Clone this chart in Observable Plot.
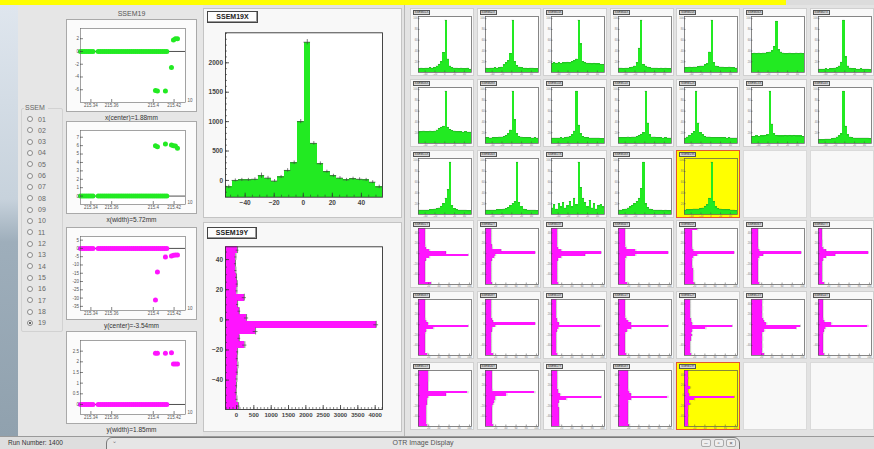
<!DOCTYPE html>
<html><head><meta charset="utf-8">
<script src="https://cdn.jsdelivr.net/npm/d3@7"></script>
<script src="https://cdn.jsdelivr.net/npm/@observablehq/plot@0.6"></script>
<style>
html,body{margin:0;padding:0}
body{width:874px;height:449px;overflow:hidden;position:relative;background:#e3e3e3;font-family:"Liberation Sans",Arial,sans-serif;color:#333}
.a{position:absolute;box-sizing:border-box}
svg{display:block}
</style></head><body>
<script>
// ---------------- DATA ----------------
const ssemIds = ["01","02","03","04","05","06","07","08","09","10","11","12","13","14","15","16","17","18","19"];
const selectedId = "19";
const runNumber = "1400";
const windowTitle = "OTR Image Display";
const scatterLabels = ["x(center)=1.88mm","x(width)=5.72mm","y(center)=-3.54mm","y(width)=1.85mm"];

// time axis of the four trend graphs
const timeDomain = [215.330, 215.431];
const timeTicks = [215.34, 215.36, 215.40, 215.42];
const timeTickLabels = ["215.34","215.36","215.4","215.42"];
const runTimes = [215.330,215.332,215.334,215.336,215.338,215.340,215.342,
  215.347,215.349,215.351,215.353,215.355,215.357,215.359,215.361,215.363,215.365,215.367,215.369,
  215.371,215.373,215.375,215.377,215.379,215.381,215.383,215.385,215.387,215.389,215.391,215.393,215.395,215.397,
  215.399,215.401,215.403,215.405,215.407,215.409,215.411,215.413];
const outTimes = [215.4021,215.4040,215.4117,215.4175,215.4194,215.4213,215.4233];
const xCenterOut = [-6.1,-6.2,-6.2,-2.5,1.8,2.0,2.0];
const xWidthOut  = [5.98,5.86,6.19,6.07,6.0,5.95,5.7];
const yCenterOut = [-31.2,-14.3,-5.2,-4.6,-4.2,-4.0,-3.9];
const yWidthOut  = [2.4,2.4,2.4,2.42,1.9,1.9,1.9];
const xCenterRange = [-8,3.6],  xCenterTicks = [-6,-4,-2,0,2];
const xWidthRange  = [-1,7.8],  xWidthTicks  = [0,1,2,3,4,5,6,7];
const yCenterRange = [-37.5,7.2], yCenterTicks = [-35,-30,-25,-20,-15,-10,-5,0,5];
const yWidthRange  = [-0.47,3.0], yWidthTicks  = [0,0.5,1,1.5,2,2.5];

// SSEM19 X projection (24 bins)
const xRangeMM = [-53.5, 54.5];
const ssem19X    = [-110,0,10,10,20,80,40,-10,60,170,300,1000,2350,630,285,150,80,40,10,30,20,10,-30,-110];
const ssem19XErr = [30,25,25,25,25,45,30,25,25,30,30,35,45,30,30,25,25,25,25,25,25,25,25,30];
const countRangeX = [-285, 2510];
const countTicksX = [0,500,1000,1500,2000];
const mmTicksX = [-40,-20,0,20,40];

// SSEM19 Y projection (24 bins, listed top to bottom)
const yRangeMM = [-59.5, 48.5];
const ssem19Y    = [30,-20,-30,-20,0,20,10,225,30,80,290,4030,550,80,240,30,20,40,20,10,0,-10,10,60];
const ssem19YErr = [40,30,30,30,30,30,30,60,30,40,60,70,70,40,60,30,30,30,30,30,30,30,30,40];
const countRangeY = [-318, 4211];
const countTicksY = [0,500,1000,1500,2000,2500,3000,3500,4000];
const mmTicksY = [-40,-20,0,20,40];

// small X profiles (% of pad height), SSEM01..19
const px01=[7,8,7,8,8,9,8,9,12,15,20,37,97,25,12,9,8,8,7,8,7,7,8,6];
const px02=[8,7,8,8,9,8,9,10,14,18,22,35,97,20,13,10,9,8,8,7,8,8,7,7];
const px03=[17,18,17,18,17,18,18,19,18,20,22,25,97,53,20,18,17,17,16,17,16,16,15,15];
const px04=[8,8,7,8,8,9,10,12,18,45,97,15,12,10,9,8,8,8,7,8,7,8,7,7];
const px05=[9,9,10,9,10,10,11,12,12,14,16,38,97,18,12,11,10,10,9,9,10,9,9,8];
const px06=[35,36,35,36,35,36,36,37,38,40,48,95,42,38,36,35,35,36,35,35,36,35,36,35];
const px07=[6,6,6,7,6,7,7,8,9,12,19,97,29,12,8,7,7,6,6,7,6,6,6,5];
const px08=[22,22,23,22,22,23,22,23,25,28,30,32,97,30,26,24,23,22,22,22,21,22,21,21];
const px09=[11,11,10,11,11,11,12,12,13,15,18,25,97,44,18,13,12,11,11,11,11,10,11,10];
const px10=[10,10,10,10,11,10,11,12,13,16,23,97,34,18,13,11,11,10,10,10,10,10,9,9];
const px11=[11,11,11,11,12,11,12,12,13,15,17,20,97,38,16,12,12,11,11,11,10,11,10,10];
const px12=[10,12,15,18,22,97,38,20,16,13,12,12,11,11,11,11,11,11,11,10,11,10,10,10];
const px13=[13,13,14,13,14,14,15,16,97,36,18,15,14,14,14,15,14,15,14,15,14,14,14,13];
const px14=[7,7,7,8,8,8,9,10,12,14,18,97,32,16,12,11,10,10,10,10,10,10,10,9];
const px15=[8,8,8,8,8,9,9,10,11,12,15,20,30,46,97,16,11,9,8,8,8,8,7,7];
const px16=[8,8,8,8,8,9,9,9,10,11,13,16,20,24,97,22,14,10,9,8,8,8,8,7];
const px17=[12,18,10,20,14,22,12,16,24,14,30,18,97,50,30,22,14,26,12,20,10,16,18,14];
const px18=[8,8,9,10,12,14,17,20,24,30,48,97,20,13,10,9,8,8,8,8,7,8,7,7];
const px19=[8,9,9,9,10,10,10,11,12,15,18,30,97,24,14,11,10,9,9,9,9,8,8,7];
// small Y profiles (% of pad width, top bin first), SSEM01..19
const py01=[13,13,13,13,13,13,13,14,15,22,54,98,22,15,13,13,13,13,13,13,13,13,13,25];
const py02=[12,12,12,12,12,12,12,13,14,31,98,20,18,13,12,12,12,12,12,12,12,12,12,13];
const py03=[12,12,12,12,12,12,12,12,13,20,98,66,20,13,12,12,12,12,12,12,12,12,12,14];
const py04=[13,13,13,13,13,13,13,14,16,34,98,34,16,14,13,13,13,13,13,13,13,13,13,18];
const py05=[26,15,15,15,15,15,15,15,16,18,98,26,18,16,15,15,16,17,18,18,18,18,18,20];
const py06=[13,13,13,13,13,13,13,13,14,16,98,23,16,14,13,13,13,13,13,13,13,13,13,16];
const py07=[7,7,7,7,7,8,8,8,10,15,98,33,15,10,8,8,8,8,8,8,8,8,8,12];
const py08=[13,13,13,13,13,13,13,13,14,16,20,98,30,16,14,13,13,13,13,13,13,13,13,18];
const py09=[12,12,12,12,12,12,12,12,13,15,98,20,14,13,12,12,12,12,12,12,12,12,12,16];
const py10=[10,10,10,10,10,10,10,10,11,12,15,97,14,11,10,10,10,10,10,10,10,10,10,12];
const py11=[13,13,13,13,13,13,13,14,16,20,25,98,25,18,14,13,13,13,13,13,13,13,13,16];
const py12=[12,12,12,12,12,12,12,12,13,14,16,94,42,16,14,15,13,13,12,12,12,12,12,14];
const py13=[22,22,21,22,22,21,22,22,23,25,30,96,88,26,22,21,22,22,21,22,22,21,22,25];
const py14=[9,9,9,9,9,9,9,9,10,12,26,97,14,11,10,9,9,9,9,9,9,9,9,12];
const py15=[20,20,20,20,20,19,19,19,19,97,54,20,18,17,17,16,16,16,16,16,16,16,16,18];
const py16=[13,13,13,13,13,13,13,13,14,97,42,20,20,18,16,14,13,13,13,13,13,13,13,16];
const py17=[12,12,12,12,12,12,12,12,13,14,18,98,30,15,14,14,15,15,15,15,15,15,15,16];
const py18=[19,19,19,19,19,19,19,19,20,22,25,97,25,20,19,19,19,19,19,19,19,19,19,22];
const py19=[7,7,7,8,7,7,7,12,8,8,10,98,20,9,12,8,8,7,7,8,7,7,7,8];
const xProfiles=[px01,px02,px03,px04,px05,px06,px07,px08,px09,px10,px11,px12,px13,px14,px15,px16,px17,px18,px19];
const yProfiles=[py01,py02,py03,py04,py05,py06,py07,py08,py09,py10,py11,py12,py13,py14,py15,py16,py17,py18,py19];
const pctTicks=[20,40,60,80,100];

// ---------------- DRAWING ----------------
const FONT='"Liberation Sans", Arial, sans-serif';
const GREEN="#22ea22", MAG="#ff14ff", YEL="#ffff00";
function div(x,y,w,h,css,html){const d=document.createElement("div");d.className="a";
  Object.assign(d.style,{left:x+"px",top:y+"px",width:w+"px",height:h+"px"},css||{});
  if(html!=null)d.innerHTML=html;document.body.appendChild(d);return d;}
function mount(svg,x,y){svg.style.position="absolute";svg.style.left=x+"px";svg.style.top=y+"px";document.body.appendChild(svg);}
const st={background:"transparent",overflow:"visible",fontFamily:FONT};
const crisp={shapeRendering:"crispEdges"};

// backgrounds
div(0,0,874,449,{background:"#dcdcdc"});
div(0,0,786,5,{background:YEL});
div(0,5,18,431,{background:"linear-gradient(#dfe6ee,#c7d2dc 45%,#9eaebb 55%,#90a1ae)"});
div(18,5,185,431,{background:"#e6e6e6"});
div(203,5,201,431,{background:"#e3e3e3"});
div(404,5,470,431,{background:"#e3e3e3",borderLeft:"1px solid #b8b8b8"});

// SSEM radio list
div(24,104,24,8,{fontSize:"7px",color:"#666",background:"#e6e6e6",zIndex:2,paddingLeft:"1px"},"SSEM");
div(21,108,42,224,{border:"1px solid #d2d2d2",borderRadius:"2px"});
ssemIds.forEach((id,i)=>{
  const cy=119+i*11.33, sel=id===selectedId;
  div(27,cy-3,6,6,{border:"1px solid #8a8a8a",borderRadius:"50%",background:"#f4f4f4"},
     sel?'<div style="position:absolute;left:1px;top:1px;width:2px;height:2px;border-radius:50%;background:#333"></div>':"");
  div(38,cy-4.5,20,9,{fontSize:"7px",color:"#666",lineHeight:"9px"},id);
});

// trend graphs
div(66,9,131,9,{fontSize:"7px",color:"#555",textAlign:"center",lineHeight:"9px"},"SSEM"+selectedId);
const trends=[
  {vals:xCenterOut,range:xCenterRange,ticks:xCenterTicks,color:GREEN,top:19},
  {vals:xWidthOut,range:xWidthRange,ticks:xWidthTicks,color:GREEN,top:121},
  {vals:yCenterOut,range:yCenterRange,ticks:yCenterTicks,color:MAG,top:227},
  {vals:yWidthOut,range:yWidthRange,ticks:yWidthTicks,color:MAG,top:331}];
trends.forEach((g,k)=>{
  div(66,g.top,131,93,{background:"#fbfbfb",border:"1px solid #a9a9a9"});
  const base=runTimes.map(t=>({t,v:0}));
  const out=outTimes.map((t,j)=>({t,v:g.vals[j]}));
  const svg=Plot.plot({width:131,height:93,marginLeft:14,marginRight:12,marginTop:9,marginBottom:10,
    x:{domain:timeDomain},y:{domain:g.range},style:st,
    marks:[
      Plot.frame({fill:"white"}),
      Plot.ruleY([0],{stroke:"#222",strokeWidth:0.8}),
      Plot.dot(base,{x:"t",y:"v",r:2.5,fill:g.color}),
      Plot.dot(out,{x:"t",y:"v",r:2.5,fill:g.color}),
      Plot.frame({stroke:"#666",strokeWidth:0.6}),
      Plot.axisY(g.ticks,{tickSize:3,dx:3,fill:"none",stroke:"#333",strokeWidth:0.6,label:null}),
      Plot.axisY(g.ticks,{tickSize:0,tickPadding:1.5,fontSize:4.5,fill:"#555",label:null,tickFormat:d=>String(d)}),
      Plot.axisX(timeTicks,{tickSize:3,dy:-3,fill:"none",stroke:"#333",strokeWidth:0.6,label:null}),
      Plot.axisX(timeTicks,{tickSize:0,tickPadding:1.5,fontSize:4.5,fill:"#555",label:null,tickFormat:(d,j)=>timeTickLabels[j]}),
      Plot.text(["10"],{frameAnchor:"bottom-right",dx:7,dy:-1,fontSize:4.5,fill:"#555"})
    ]});
  mount(svg,66,g.top);
  div(66,g.top+93,131,11,{fontSize:"6.5px",color:"#333",textAlign:"center",lineHeight:"11px"},scatterLabels[k]);
});

// main X histogram
const wX=(xRangeMM[1]-xRangeMM[0])/ssem19X.length;
const binsX=ssem19X.map((v,i)=>({x1:xRangeMM[0]+i*wX,x2:xRangeMM[0]+(i+1)*wX,v,e:ssem19XErr[i]}));
div(203,8,199,210,{background:"#f8f8f8",border:"1px solid #c4c4c4"});
const minorX=d3.range(-50,51,5), minorCX=d3.range(-200,2501,100);
mount(Plot.plot({width:199,height:210,marginLeft:22,marginRight:20,marginTop:24.3,marginBottom:21.3,
  x:{domain:xRangeMM},y:{domain:countRangeX},style:st,
  marks:[
    Plot.frame({fill:"white"}),
    Plot.rectY(binsX,{x1:"x1",x2:"x2",y1:countRangeX[0],y2:"v",fill:GREEN,...crisp}),
    Plot.ruleY(binsX,{x1:"x1",x2:"x2",y:"v",stroke:"#444",strokeWidth:0.7}),
    Plot.ruleX(binsX,{x:d=>(d.x1+d.x2)/2,y1:d=>d.v-d.e,y2:d=>d.v+d.e,stroke:"#444",strokeWidth:0.7}),
    Plot.frame({stroke:"#333",strokeWidth:0.9}),
    Plot.axisY(minorCX,{tickSize:2,dx:2,fill:"none",stroke:"#333",strokeWidth:0.6,label:null}),
    Plot.axisY(countTicksX,{tickSize:4,dx:4,fill:"none",stroke:"#333",strokeWidth:0.8,label:null}),
    Plot.axisY(countTicksX,{tickSize:0,tickPadding:2.5,fontSize:6.5,fontWeight:"bold",fill:"#444",label:null,tickFormat:"d"}),
    Plot.axisX(minorX,{tickSize:2,dy:-2,fill:"none",stroke:"#333",strokeWidth:0.6,label:null}),
    Plot.axisX(mmTicksX,{tickSize:4,dy:-4,fill:"none",stroke:"#333",strokeWidth:0.8,label:null}),
    Plot.axisX(mmTicksX,{tickSize:0,tickPadding:3,fontSize:6.5,fontWeight:"bold",fill:"#444",label:null,tickFormat:"d"})
  ]}),203,8);
div(207,11,51,12,{border:"1px solid #444",background:"#fdfdfd",boxShadow:"inset -1px -1px 0 #999",fontSize:"7px",fontWeight:"bold",textAlign:"center",lineHeight:"10px",color:"#222"},"SSEM"+selectedId+"X");

// main Y histogram
const wY=(yRangeMM[1]-yRangeMM[0])/ssem19Y.length;
const binsY=ssem19Y.map((v,i)=>({y2:yRangeMM[1]-i*wY,y1:yRangeMM[1]-(i+1)*wY,v,e:ssem19YErr[i]}));
div(203,222,199,210,{background:"#f8f8f8",border:"1px solid #c4c4c4"});
const minorY=d3.range(-55,46,5), minorCY=d3.range(-300,4201,100);
mount(Plot.plot({width:199,height:210,marginLeft:22,marginRight:20,marginTop:24.3,marginBottom:23,
  x:{domain:countRangeY},y:{domain:yRangeMM},style:st,
  marks:[
    Plot.frame({fill:"white"}),
    Plot.rectX(binsY,{y1:"y1",y2:"y2",x1:countRangeY[0],x2:"v",fill:MAG,...crisp}),
    Plot.ruleX(binsY,{y1:"y1",y2:"y2",x:"v",stroke:"#444",strokeWidth:0.7}),
    Plot.ruleY(binsY,{y:d=>(d.y1+d.y2)/2,x1:d=>d.v-d.e,x2:d=>d.v+d.e,stroke:"#444",strokeWidth:0.7}),
    Plot.frame({stroke:"#333",strokeWidth:0.9}),
    Plot.axisY(minorY,{tickSize:2,dx:2,fill:"none",stroke:"#333",strokeWidth:0.6,label:null}),
    Plot.axisY(mmTicksY,{tickSize:4,dx:4,fill:"none",stroke:"#333",strokeWidth:0.8,label:null}),
    Plot.axisY(mmTicksY,{tickSize:0,tickPadding:2.5,fontSize:6.5,fontWeight:"bold",fill:"#444",label:null,tickFormat:"d"}),
    Plot.axisX(minorCY,{tickSize:2,dy:-2,fill:"none",stroke:"#333",strokeWidth:0.6,label:null}),
    Plot.axisX(countTicksY,{tickSize:4,dy:-4,fill:"none",stroke:"#333",strokeWidth:0.8,label:null}),
    Plot.axisX(countTicksY,{tickSize:0,tickPadding:3,fontSize:6,fontWeight:"bold",fill:"#444",label:null,tickFormat:"d"})
  ]}),203,222);
div(207,227,50,12,{border:"1px solid #444",background:"#fdfdfd",boxShadow:"inset -1px -1px 0 #999",fontSize:"7px",fontWeight:"bold",textAlign:"center",lineHeight:"10px",color:"#222"},"SSEM"+selectedId+"Y");

// small pads grid
const profRangeX=xRangeMM, profRangeY=yRangeMM;
function smallPad(kind,i,col,row){
  const x0=410+col*66.6, y0=8+row*70.8, hl=ssemIds[i]===selectedId;
  div(x0,y0,64,68,{background:hl?YEL:"#f8f8f8",border:hl?"1px solid #e2572e":"1px solid #d0d0d0"});
  let marks;
  if(kind==="x"){
    const vals=xProfiles[i], w=(profRangeX[1]-profRangeX[0])/vals.length;
    const bins=vals.map((v,j)=>({x1:profRangeX[0]+j*w,x2:profRangeX[0]+(j+1)*w,v}));
    marks=[Plot.rectY(bins,{x1:"x1",x2:"x2",y1:0,y2:"v",fill:GREEN,...crisp}),
           Plot.ruleY(bins,{x1:"x1",x2:"x2",y:"v",stroke:"#333",strokeWidth:0.4,strokeOpacity:0.7})];
  } else {
    const vals=yProfiles[i], w=(profRangeY[1]-profRangeY[0])/vals.length;
    const bins=vals.map((v,j)=>({y2:profRangeY[1]-j*w,y1:profRangeY[1]-(j+1)*w,v}));
    marks=[Plot.rectX(bins,{y1:"y1",y2:"y2",x1:0,x2:"v",fill:MAG,...crisp}),
           Plot.ruleX(bins,{y1:"y1",y2:"y2",x:"v",stroke:"#333",strokeWidth:0.4,strokeOpacity:0.7})];
  }
  const xDom=kind==="x"?profRangeX:[0,104], yDom=kind==="x"?[0,104]:profRangeY;
  const xT=kind==="x"?mmTicksX:pctTicks, yT=kind==="x"?pctTicks:mmTicksY;
  mount(Plot.plot({width:64,height:68,marginLeft:8,marginRight:3,marginTop:8,marginBottom:4,
    x:{domain:xDom},y:{domain:yDom},style:st,
    marks:[Plot.frame({fill:hl?YEL:"white"}),...marks,
      Plot.frame({stroke:"#555",strokeWidth:0.7}),
      Plot.axisY(yT,{tickSize:1.5,dx:1.5,fill:"none",stroke:"#444",strokeWidth:0.5,label:null}),
      Plot.axisY(yT,{tickSize:0,tickPadding:0.8,fontSize:2.6,fill:"#777",label:null,tickFormat:"d"}),
      Plot.axisX(xT,{tickSize:1.5,dy:-1.5,fill:"none",stroke:"#444",strokeWidth:0.5,label:null}),
      Plot.axisX(xT,{tickSize:0,tickPadding:0.6,fontSize:2.6,fill:"#777",label:null,tickFormat:"d"})
    ]}),x0,y0);
  div(x0+3,y0+2,17,5,{border:"1px solid #555",background:"#d8d8d8",fontSize:"3px",lineHeight:"3px",textAlign:"center",color:"#222",overflow:"hidden"},"SSEM"+ssemIds[i]+(kind==="x"?"X":"Y"));
}
ssemIds.forEach((id,i)=>{
  const col=i%7, row=Math.floor(i/7);
  smallPad("x",i,col,row);
  smallPad("y",i,col,row+3);
});
[[5,2],[6,2],[5,5],[6,5]].forEach(([c,r])=>div(410+c*66.6,8+r*70.8,64,68,{background:"#f8f8f8",border:"1px solid #dadada"}));

// status bar
div(0,436,874,13,{background:"#dedede",borderTop:"1px solid #9a9a9a"});
div(8,438,80,10,{fontSize:"6.5px",color:"#333",lineHeight:"10px"},"Run Number: "+runNumber);
div(106,437,634,14,{border:"1px solid #7a7a7a",borderRadius:"6px 6px 0 0",background:"#e6e6e6"});
div(106,438,634,10,{fontSize:"7px",color:"#555",textAlign:"center",lineHeight:"10px"},windowTitle);
div(112,437,8,8,{fontSize:"6px",color:"#777"},"&#8964;");
["&#8211;","&#9643;","&#215;"].forEach((s,i)=>div(701+i*12.5,439,10,8,{border:"1px solid #aaa",borderRadius:"2px",fontSize:"6px",color:"#555",textAlign:"center",lineHeight:"7px",background:"#eee"},s));
</script></body></html>
